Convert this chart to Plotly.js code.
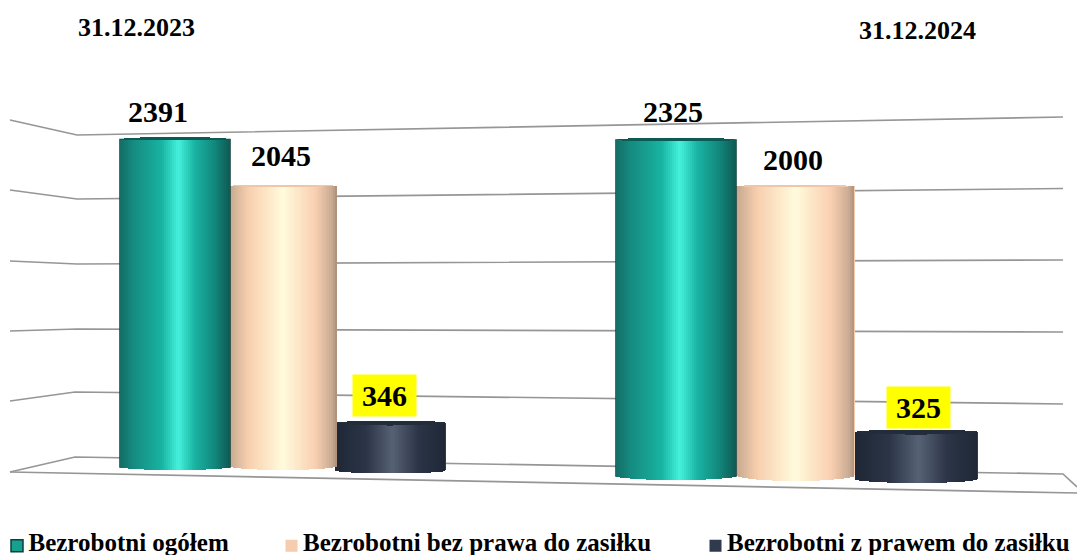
<!DOCTYPE html>
<html>
<head>
<meta charset="utf-8">
<script src="https://cdn.plot.ly/plotly-3.0.1.min.js"></script>
<style>
html,body{margin:0;padding:0;background:#fff}
#chart{width:1077px;height:555px}
.legendsymbols{transform:translate(8.5px,5px)}
</style>
</head>
<body>
<div id="chart"></div>
<script>
// ---- data ----
var periods = ["31.12.2023", "31.12.2024"];
var seriesNames = ["Bezrobotni ogółem", "Bezrobotni bez prawa do zasiłku", "Bezrobotni z prawem do zasiłku"];
var ogolem = [2391, 2325];
var bezPrawa = [2045, 2000];
var zPrawem = [346, 325];
var seriesValues = [ogolem, bezPrawa, zPrawem];

// ---- look of the 3D scene ----
var W = 1077, H = 555;
var axisFor = ["y2", "y3"];
var pxPerUnit = [0.137, 0.1445];          // perspective: the nearer group is drawn larger
var zeroPx = [467, 476];                  // where value 0 falls for each group
var barLeft = [[120, 229, 335], [616, 736, 855]];
var barRight = [[230, 337, 446], [736, 855, 978]];
var floorLift = [[0, 1, -3.4], [0, 1, -3]];   // px the bar foot sits above value 0
var sag = [[3, 4, 3], [4, 6, 4]];
var capRise = [2.5, 1, 2.5];
var capDrop = [1, 1, 2.5];
var legendColors = ["#16a090", "#f5ccae", "#2f3a4e"];
var capColors = ["#0c5a54", "#f0c6a8", "#232c3b"];
var gradients = [
  [[0, "#146d66"], [0.12, "#168a7f"], [0.38, "#18b3a2"], [0.53, "#45f2dc"], [0.68, "#18b3a2"], [0.85, "#128a7e"], [1, "#0d5a54"]],
  [[0, "#c4a88f"], [0.18, "#f8cfae"], [0.5, "#fffbdc"], [0.8, "#f9cfb0"], [0.95, "#c9ab93"], [1, "#a98d78"]],
  [[0, "#1f2736"], [0.28, "#2b3547"], [0.52, "#566173"], [0.75, "#2b3547"], [1, "#1f2736"]]
];
var stripPx = 2;

// wall and floor lines of the scene, on a page-sized helper axis
var wallLines = [
  {x: [10, 77, 1063], y: [120, 135, 117]},
  {x: [10, 77, 1063], y: [190, 199, 188.5]},
  {x: [10, 77, 1063], y: [261, 264, 260]},
  {x: [10, 77, 1063], y: [331, 329, 332]},
  {x: [10, 75, 1063], y: [401, 392, 404]},
  {x: [10, 75, 1063, 1077], y: [472, 457, 474, 487]},
  {x: [10, 1077], y: [472, 493]}
];

function hexToRgb(h) { return [1, 3, 5].map(function (i) { return parseInt(h.substr(i, 2), 16); }); }
function shade(stops, u) {
  for (var i = 1; i < stops.length; i++) {
    if (u <= stops[i][0]) {
      var a = stops[i - 1], b = stops[i], t = (u - a[0]) / (b[0] - a[0]);
      var ca = hexToRgb(a[1]), cb = hexToRgb(b[1]);
      return "rgb(" + ca.map(function (c, k) { return Math.round(c + (cb[k] - c) * t); }).join(",") + ")";
    }
  }
  return stops[stops.length - 1][1];
}

var traces = [];
wallLines.forEach(function (l) {
  traces.push({type: "scatter", mode: "lines", x: l.x, y: l.y, yaxis: "y", showlegend: false, hoverinfo: "skip",
    line: {color: "#969696", width: 1.7}});
});

var legendIds = ["legend", "legend2", "legend3"];
[2, 1, 0].forEach(function (s) {
  periods.forEach(function (period, p) {
    var v = seriesValues[s][p], L = barLeft[p][s], R = barRight[p][s], k = pxPerUnit[p];
    var base = floorLift[p][s] / k;
    var cx = (L + R) / 2, half = (R - L) / 2;
    // the bar itself, carrying the legend entry
    traces.push({type: "bar", x: [cx], y: [v], base: [base], width: [R - L], yaxis: axisFor[p],
      name: seriesNames[s], legend: legendIds[s], legendgroup: "s" + s, showlegend: p === 0, hoverinfo: "skip",
      marker: {color: legendColors[s], line: {color: s === 0 ? "#0c3f3b" : legendColors[s], width: s === 0 ? 1.5 : 0}}});
    // vertical strips: shading of the cylinder and its rounded foot
    var xs = [], tops = [], bases = [], cols = [], capTop = [], capBase = [];
    for (var x = L + stripPx / 2; x < R; x += stripPx) {
      var u = (x - L) / (R - L), w = (x - cx) / half, e = Math.sqrt(Math.max(0, 1 - w * w));
      var b = base - sag[p][s] * e / k;
      var t = v + base - capDrop[s] * e / k;
      xs.push(x); bases.push(b); tops.push(t - b); cols.push(shade(gradients[s], u));
      capBase.push(t); capTop.push((capRise[s] + capDrop[s]) * e / k);
    }
    traces.push({type: "bar", x: xs, y: tops, base: bases, width: stripPx + 0.4, yaxis: axisFor[p],
      showlegend: false, hoverinfo: "skip", marker: {color: cols, line: {width: 0}}});
    traces.push({type: "bar", x: xs, y: capTop, base: capBase, width: stripPx + 0.4, yaxis: axisFor[p],
      showlegend: false, hoverinfo: "skip", marker: {color: capColors[s], line: {width: 0}}});
  });
});

// value labels
var labelLift = [[28, 30, 28], [29, 27, 24.5]];
var labelCentre = [[158, 281, 384.7], [673, 793, 918]];
var annotations = [];
seriesValues.forEach(function (vals, s) {
  vals.forEach(function (v, p) {
    var a = {
      x: labelCentre[p][s], y: v + floorLift[p][s] / pxPerUnit[p], xref: "x", yref: axisFor[p], text: String(v),
      showarrow: false, yanchor: "middle", yshift: labelLift[p][s],
      font: {family: "Liberation Serif", size: 30, color: "#000", weight: 700},
      bgcolor: "rgba(0,0,0,0)", borderpad: 0
    };
    if (s === 2) { a.bgcolor = "#ffff00"; a.width = 63; a.height = 41; a.align = "center"; a.valign = "middle"; }
    annotations.push(a);
  });
});
var titleX = [136.5, 917], titleY = [27, 30];
periods.forEach(function (t, p) {
  annotations.push({x: titleX[p], y: titleY[p], xref: "x", yref: "y", text: t, showarrow: false,
    font: {family: "Liberation Serif", size: 26, color: "#000", weight: 700}});
});

function legendAt(px) {
  return {x: px / W, y: 1 - 541 / H, xref: "paper", yref: "paper", xanchor: "left", yanchor: "middle",
    orientation: "h", bgcolor: "rgba(0,0,0,0)", borderwidth: 0, indentation: -8,
    font: {family: "Liberation Serif", size: 25, color: "#000", weight: 700}};
}

function zeroedAxis(p) {
  return {visible: false, fixedrange: true, overlaying: "y",
    range: [-(H - zeroPx[p]) / pxPerUnit[p], zeroPx[p] / pxPerUnit[p]]};
}
var layout = {
  width: W, height: H, margin: {l: 0, r: 0, t: 0, b: 0, autoexpand: false},
  paper_bgcolor: "#fff", plot_bgcolor: "#fff",
  barmode: "overlay", bargap: 0,
  xaxis: {visible: false, fixedrange: true, range: [0, W]},
  yaxis: {visible: false, fixedrange: true, range: [H, 0]},
  yaxis2: zeroedAxis(0),
  yaxis3: zeroedAxis(1),
  legend: legendAt(-3.5),
  legend2: legendAt(271),
  legend3: legendAt(695),
  annotations: annotations
};
Plotly.newPlot("chart", traces, layout, {staticPlot: true, displayModeBar: false});
</script>
</body>
</html>
